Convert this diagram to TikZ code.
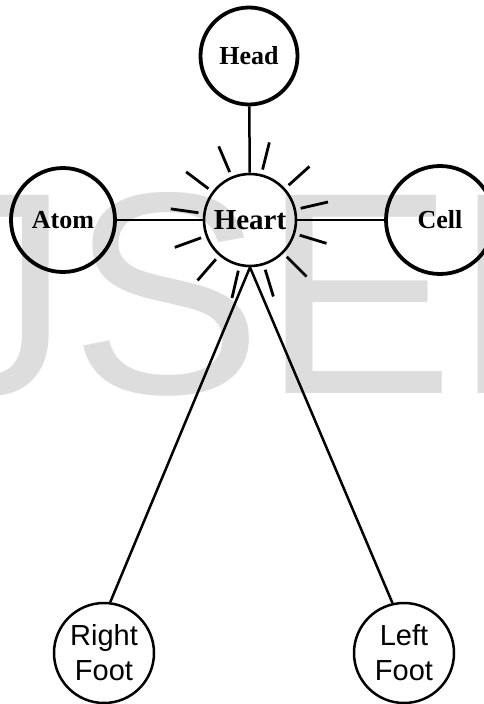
\documentclass[tikz,border=0pt]{standalone}
\usepackage{fontspec}
\setmainfont{Liberation Serif}
\newfontfamily\footfont{Liberation Sans}
\definecolor{markgray}{RGB}{221,221,221}

\begin{document}
\begin{tikzpicture}[x=1pt,y=1pt,
    part/.style={draw,circle,inner sep=0pt,line width=3.8pt,minimum size=#1,font=\bfseries\fontsize{26}{26}\selectfont},
    core/.style={draw,circle,inner sep=0pt,line width=2.6pt,minimum size=92pt,font=\bfseries\fontsize{29}{29}\selectfont},
    foot/.style={draw,circle,inner sep=0pt,line width=2.5pt,minimum size=100pt,align=center,font=\footfont\fontsize{29}{35}\selectfont},
    link/.style={line width=2.5pt},
    ray/.style={line width=2.8pt}]
    \useasboundingbox (0,0) rectangle (484,-704);
    \clip (0,0) rectangle (484,-704);
    \node[anchor=base west,inner sep=0pt,text=markgray,font=\footfont\fontsize{288}{288}\selectfont] (mark) at (-154,-393) {IJSER};
    \node[part=97pt] (head) at (249,-56) {Head};
    \node[core] (heart) at (250,-220) {Heart};
    \node[part=104pt] (atom) at (63,-220) {Atom};
    \node[part=108pt] (cell) at (440,-220) {Cell};
    \node[foot] (rfoot) at (104,-653) {Right\\Foot};
    \node[foot] (lfoot) at (404,-653) {Left\\Foot};
    \draw[link] (head) -- (heart);
    \draw[link] (atom) -- (heart);
    \draw[link] (heart) -- (cell);
    \draw[link] (heart.south) -- (rfoot.83);
    \draw[link] (heart.south) -- (lfoot.103);
    \foreach \a in {13,42,76,113,143,172,200,229,257,287,315,343}
        \draw[ray] ([shift={(\a:52)}]heart.center) -- ([shift={(\a:80)}]heart.center);
\end{tikzpicture}
\end{document}
